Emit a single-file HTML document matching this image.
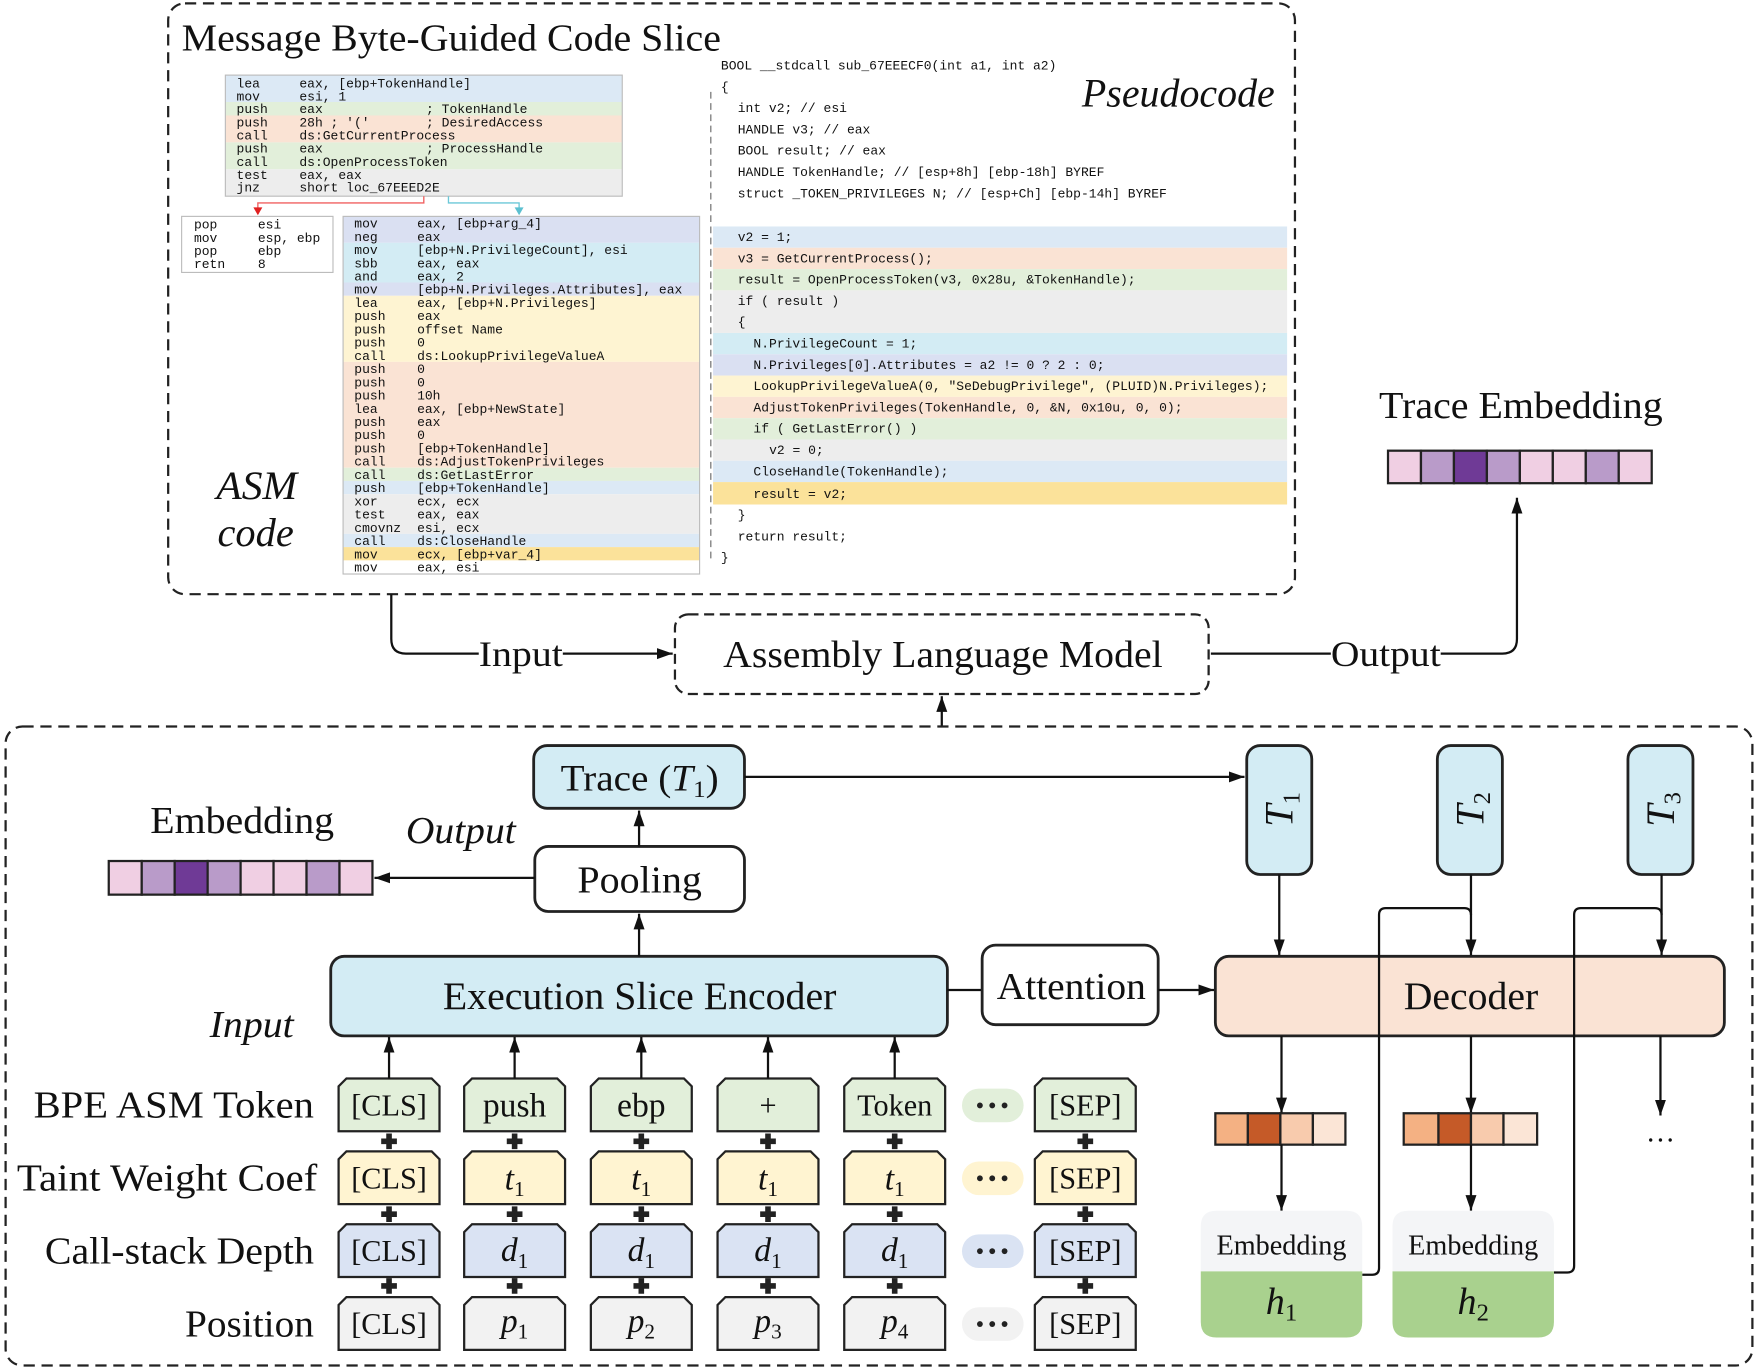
<!DOCTYPE html>
<html><head><meta charset="utf-8"><style>
html,body{margin:0;padding:0;background:#fff;width:1758px;height:1370px;overflow:hidden}
svg{display:block}
.m{font-family:"Liberation Mono",monospace;font-size:11.6px;fill:#111}
.p{font-family:"Liberation Mono",monospace;font-size:11.6px;fill:#111}
.s{font-family:"Liberation Serif",serif;fill:#111}
</style></head><body>
<svg width="1758" height="1370" viewBox="0 0 1568 1222" preserveAspectRatio="none" xmlns="http://www.w3.org/2000/svg">
<defs>
<marker id="ab" viewBox="0 0 10 10" refX="10" refY="5" markerWidth="14" markerHeight="14" markerUnits="userSpaceOnUse" orient="auto"><path d="M0,1.5 L10,5 L0,8.5 z" fill="#111"/></marker>
</defs>

<rect x="150" y="3" width="1005" height="527" rx="15" fill="none" stroke="#222" stroke-width="2" stroke-dasharray="10,6"/>
<text class="s" x="162" y="45" font-size="34" textLength="481" lengthAdjust="spacingAndGlyphs">Message Byte-Guided Code Slice</text>

<rect x="201" y="67" width="354" height="24" fill="#dce9f5"/>
<rect x="201" y="91" width="354" height="12" fill="#e2efda"/>
<rect x="201" y="103" width="354" height="24" fill="#fae3d4"/>
<rect x="201" y="127" width="354" height="24" fill="#e2efda"/>
<rect x="201" y="151" width="354" height="24" fill="#ededed"/>
<rect x="201" y="67" width="354" height="108" fill="none" stroke="#bbb" stroke-width="1"/>
<g class="m">
<text x="211" y="78">lea</text><text x="267" y="78">eax, [ebp+TokenHandle]</text>
<text x="211" y="89.5">mov</text><text x="267" y="89.5">esi, 1</text>
<text x="211" y="101">push</text><text x="267" y="101">eax</text><text x="380" y="101">; TokenHandle</text>
<text x="211" y="113">push</text><text x="267" y="113">28h ; '('</text><text x="380" y="113">; DesiredAccess</text>
<text x="211" y="124.5">call</text><text x="267" y="124.5">ds:GetCurrentProcess</text>
<text x="211" y="136">push</text><text x="267" y="136">eax</text><text x="380" y="136">; ProcessHandle</text>
<text x="211" y="148">call</text><text x="267" y="148">ds:OpenProcessToken</text>
<text x="211" y="159.5">test</text><text x="267" y="159.5">eax, eax</text>
<text x="211" y="171">jnz</text><text x="267" y="171">short loc_67EEED2E</text>
</g>
<path d="M378,175 V181 H230 V186" fill="none" stroke="#f06060" stroke-width="1.2"/>
<path d="M226,185 L234,185 L230,192 z" fill="#e02020"/>
<path d="M400,175 V181 H463 V186" fill="none" stroke="#6cc8d8" stroke-width="1.2"/>
<path d="M459,185 L467,185 L463,192 z" fill="#5cc0d0"/>

<rect x="162" y="193" width="135" height="50" fill="#fff" stroke="#bbb" stroke-width="1"/>
<g class="m">
<text x="173" y="204">pop</text><text x="230" y="204">esi</text>
<text x="173" y="216">mov</text><text x="230" y="216">esp, ebp</text>
<text x="173" y="227.5">pop</text><text x="230" y="227.5">ebp</text>
<text x="173" y="239">retn</text><text x="230" y="239">8</text>
</g>

<rect x="306" y="193" width="318" height="23.6" fill="#dae0f2"/>
<rect x="306" y="216.6" width="318" height="35.4" fill="#d3ecf4"/>
<rect x="306" y="252" width="318" height="11.8" fill="#dae0f2"/>
<rect x="306" y="263.8" width="318" height="59" fill="#fef4d2"/>
<rect x="306" y="322.8" width="318" height="94.4" fill="#fae3d4"/>
<rect x="306" y="417.2" width="318" height="11.8" fill="#e2efda"/>
<rect x="306" y="429" width="318" height="11.8" fill="#dce9f5"/>
<rect x="306" y="440.8" width="318" height="35.4" fill="#ededed"/>
<rect x="306" y="476.2" width="318" height="11.8" fill="#dce9f5"/>
<rect x="306" y="488" width="318" height="11.8" fill="#fbe29a"/>
<rect x="306" y="193" width="318" height="319" fill="none" stroke="#bbb" stroke-width="1"/>
<g class="m">
<text x="316" y="203">mov</text><text x="372" y="203">eax, [ebp+arg_4]</text>
<text x="316" y="214.8">neg</text><text x="372" y="214.8">eax</text>
<text x="316" y="226.6">mov</text><text x="372" y="226.6">[ebp+N.PrivilegeCount], esi</text>
<text x="316" y="238.4">sbb</text><text x="372" y="238.4">eax, eax</text>
<text x="316" y="250.2">and</text><text x="372" y="250.2">eax, 2</text>
<text x="316" y="262">mov</text><text x="372" y="262">[ebp+N.Privileges.Attributes], eax</text>
<text x="316" y="273.8">lea</text><text x="372" y="273.8">eax, [ebp+N.Privileges]</text>
<text x="316" y="285.6">push</text><text x="372" y="285.6">eax</text>
<text x="316" y="297.4">push</text><text x="372" y="297.4">offset Name</text>
<text x="316" y="309.2">push</text><text x="372" y="309.2">0</text>
<text x="316" y="321">call</text><text x="372" y="321">ds:LookupPrivilegeValueA</text>
<text x="316" y="332.8">push</text><text x="372" y="332.8">0</text>
<text x="316" y="344.6">push</text><text x="372" y="344.6">0</text>
<text x="316" y="356.4">push</text><text x="372" y="356.4">10h</text>
<text x="316" y="368.2">lea</text><text x="372" y="368.2">eax, [ebp+NewState]</text>
<text x="316" y="380">push</text><text x="372" y="380">eax</text>
<text x="316" y="391.8">push</text><text x="372" y="391.8">0</text>
<text x="316" y="403.6">push</text><text x="372" y="403.6">[ebp+TokenHandle]</text>
<text x="316" y="415.4">call</text><text x="372" y="415.4">ds:AdjustTokenPrivileges</text>
<text x="316" y="427.2">call</text><text x="372" y="427.2">ds:GetLastError</text>
<text x="316" y="439">push</text><text x="372" y="439">[ebp+TokenHandle]</text>
<text x="316" y="450.8">xor</text><text x="372" y="450.8">ecx, ecx</text>
<text x="316" y="462.6">test</text><text x="372" y="462.6">eax, eax</text>
<text x="316" y="474.4">cmovnz</text><text x="372" y="474.4">esi, ecx</text>
<text x="316" y="486.2">call</text><text x="372" y="486.2">ds:CloseHandle</text>
<text x="316" y="498">mov</text><text x="372" y="498">ecx, [ebp+var_4]</text>
<text x="316" y="509.8">mov</text><text x="372" y="509.8">eax, esi</text>
</g>
<text class="s" x="193" y="445" font-size="36" font-style="italic" textLength="72" lengthAdjust="spacingAndGlyphs">ASM</text>
<text class="s" x="194" y="487" font-size="36" font-style="italic" textLength="68" lengthAdjust="spacingAndGlyphs">code</text>

<line x1="634" y1="82" x2="634" y2="498" stroke="#666" stroke-width="1" stroke-dasharray="6,4"/>
<rect x="636" y="202" width="512" height="19" fill="#dce9f5"/>
<rect x="636" y="221" width="512" height="19" fill="#fae3d4"/>
<rect x="636" y="240" width="512" height="19" fill="#e2efda"/>
<rect x="636" y="259" width="512" height="38" fill="#ededed"/>
<rect x="636" y="297" width="512" height="19" fill="#d3ecf4"/>
<rect x="636" y="316" width="512" height="19" fill="#dae0f2"/>
<rect x="636" y="335" width="512" height="19" fill="#fef4d2"/>
<rect x="636" y="354" width="512" height="19" fill="#fae3d4"/>
<rect x="636" y="373" width="512" height="19" fill="#e2efda"/>
<rect x="636" y="392" width="512" height="19" fill="#ededed"/>
<rect x="636" y="411" width="512" height="19" fill="#dce9f5"/>
<rect x="636" y="430" width="512" height="20" fill="#fbe29a"/>
<g class="p">
<text x="643" y="62">BOOL __stdcall sub_67EEECF0(int a1, int a2)</text>
<text x="643" y="81">{</text>
<text x="658" y="100">int v2; // esi</text>
<text x="658" y="119">HANDLE v3; // eax</text>
<text x="658" y="138">BOOL result; // eax</text>
<text x="658" y="157">HANDLE TokenHandle; // [esp+8h] [ebp-18h] BYREF</text>
<text x="658" y="176">struct _TOKEN_PRIVILEGES N; // [esp+Ch] [ebp-14h] BYREF</text>
<text x="658" y="215">v2 = 1;</text>
<text x="658" y="234">v3 = GetCurrentProcess();</text>
<text x="658" y="253">result = OpenProcessToken(v3, 0x28u, &amp;TokenHandle);</text>
<text x="658" y="272">if ( result )</text>
<text x="658" y="291">{</text>
<text x="672" y="310">N.PrivilegeCount = 1;</text>
<text x="672" y="329">N.Privileges[0].Attributes = a2 != 0 ? 2 : 0;</text>
<text x="672" y="348">LookupPrivilegeValueA(0, "SeDebugPrivilege", (PLUID)N.Privileges);</text>
<text x="672" y="367">AdjustTokenPrivileges(TokenHandle, 0, &amp;N, 0x10u, 0, 0);</text>
<text x="672" y="386">if ( GetLastError() )</text>
<text x="686" y="405">v2 = 0;</text>
<text x="672" y="424">CloseHandle(TokenHandle);</text>
<text x="672" y="444">result = v2;</text>
<text x="658" y="463">}</text>
<text x="658" y="482">return result;</text>
<text x="643" y="501">}</text>
</g>
<text class="s" x="965" y="95" font-size="36" font-style="italic" textLength="172" lengthAdjust="spacingAndGlyphs">Pseudocode</text>

<path d="M349,530 V570 Q349,583 362,583 H427" fill="none" stroke="#111" stroke-width="2"/>
<line x1="502" y1="583" x2="600" y2="583" stroke="#111" stroke-width="2" marker-end="url(#ab)"/>
<text class="s" x="427" y="594" font-size="32" textLength="75" lengthAdjust="spacingAndGlyphs">Input</text>
<rect x="602" y="548" width="476" height="71" rx="12" fill="#fff" stroke="#222" stroke-width="2" stroke-dasharray="9,5"/>
<text class="s" x="645" y="595" font-size="34" textLength="392" lengthAdjust="spacingAndGlyphs">Assembly Language Model</text>
<line x1="1080" y1="583" x2="1187" y2="583" stroke="#111" stroke-width="2"/>
<text class="s" x="1187" y="594" font-size="32" textLength="98" lengthAdjust="spacingAndGlyphs">Output</text>
<path d="M1285,583 H1340 Q1353,583 1353,570 V444" fill="none" stroke="#111" stroke-width="2" marker-end="url(#ab)"/>
<text class="s" x="1230" y="373" font-size="34" textLength="253" lengthAdjust="spacingAndGlyphs">Trace Embedding</text>
<g stroke="#222" stroke-width="2">
<rect x="1238" y="402" width="29.4" height="29" fill="#f0cfe3"/>
<rect x="1267.4" y="402" width="29.4" height="29" fill="#b99bc9"/>
<rect x="1296.8" y="402" width="29.4" height="29" fill="#6f3a96"/>
<rect x="1326.2" y="402" width="29.4" height="29" fill="#b99bc9"/>
<rect x="1355.6" y="402" width="29.4" height="29" fill="#f0cfe3"/>
<rect x="1385" y="402" width="29.4" height="29" fill="#f0cfe3"/>
<rect x="1414.4" y="402" width="29.4" height="29" fill="#b99bc9"/>
<rect x="1443.8" y="402" width="29.4" height="29" fill="#f0cfe3"/>
</g>
<line x1="840" y1="648" x2="840" y2="621" stroke="#111" stroke-width="2" marker-end="url(#ab)"/>

<rect x="5" y="648" width="1558" height="570" rx="15" fill="none" stroke="#222" stroke-width="2" stroke-dasharray="10,6"/>

<rect x="476" y="665" width="188" height="56" rx="12" fill="#d3ecf4" stroke="#222" stroke-width="2.5"/>
<text class="s" x="500" y="705" font-size="33" textLength="141" lengthAdjust="spacingAndGlyphs">Trace (<tspan font-style="italic">T</tspan><tspan font-size="21" dy="6">1</tspan><tspan dy="-6">)</tspan></text>
<line x1="664" y1="693" x2="1110" y2="693" stroke="#111" stroke-width="2" marker-end="url(#ab)"/>
<rect x="477" y="755" width="187" height="58" rx="12" fill="#fff" stroke="#222" stroke-width="2.5"/>
<text class="s" x="515" y="796" font-size="34" textLength="111" lengthAdjust="spacingAndGlyphs">Pooling</text>
<line x1="570" y1="755" x2="570" y2="723" stroke="#111" stroke-width="2" marker-end="url(#ab)"/>
<text class="s" x="134" y="743" font-size="34" textLength="164" lengthAdjust="spacingAndGlyphs">Embedding</text>
<text class="s" x="362" y="752" font-size="34" font-style="italic" textLength="98" lengthAdjust="spacingAndGlyphs">Output</text>
<g stroke="#222" stroke-width="2">
<rect x="97" y="768" width="29.4" height="30" fill="#f0cfe3"/>
<rect x="126.4" y="768" width="29.4" height="30" fill="#b99bc9"/>
<rect x="155.8" y="768" width="29.4" height="30" fill="#6f3a96"/>
<rect x="185.2" y="768" width="29.4" height="30" fill="#b99bc9"/>
<rect x="214.6" y="768" width="29.4" height="30" fill="#f0cfe3"/>
<rect x="244" y="768" width="29.4" height="30" fill="#f0cfe3"/>
<rect x="273.4" y="768" width="29.4" height="30" fill="#b99bc9"/>
<rect x="302.8" y="768" width="29.4" height="30" fill="#f0cfe3"/>
</g>
<line x1="477" y1="783" x2="334" y2="783" stroke="#111" stroke-width="2" marker-end="url(#ab)"/>

<rect x="295" y="853" width="550" height="71" rx="12" fill="#d3ecf4" stroke="#222" stroke-width="2.5"/>
<text class="s" x="395" y="900" font-size="35" textLength="351" lengthAdjust="spacingAndGlyphs">Execution Slice Encoder</text>
<line x1="570" y1="853" x2="570" y2="815" stroke="#111" stroke-width="2" marker-end="url(#ab)"/>
<text class="s" x="187" y="925" font-size="34" font-style="italic" textLength="75" lengthAdjust="spacingAndGlyphs">Input</text>
<line x1="845" y1="883" x2="876" y2="883" stroke="#111" stroke-width="2"/>
<rect x="876" y="843" width="157" height="71" rx="12" fill="#fff" stroke="#222" stroke-width="2.5"/>
<text class="s" x="889" y="891" font-size="34" textLength="133" lengthAdjust="spacingAndGlyphs">Attention</text>
<line x1="1033" y1="883" x2="1083" y2="883" stroke="#111" stroke-width="2" marker-end="url(#ab)"/>

<rect x="1084" y="853" width="454" height="71" rx="12" fill="#fae3d4" stroke="#222" stroke-width="2.5"/>
<text class="s" x="1252" y="900" font-size="35" textLength="120" lengthAdjust="spacingAndGlyphs">Decoder</text>

<g stroke="#222" stroke-width="2.5" fill="#d3ecf4">
<rect x="1112" y="665" width="58" height="115" rx="12"/>
<rect x="1282" y="665" width="58" height="115" rx="12"/>
<rect x="1452" y="665" width="58" height="115" rx="12"/>
</g>
<text class="s" transform="translate(1153,722) rotate(-90)" font-size="36" font-style="italic" text-anchor="middle">T<tspan font-style="normal" font-size="22" dy="6">1</tspan></text>
<text class="s" transform="translate(1323,722) rotate(-90)" font-size="36" font-style="italic" text-anchor="middle">T<tspan font-style="normal" font-size="22" dy="6">2</tspan></text>
<text class="s" transform="translate(1493,722) rotate(-90)" font-size="36" font-style="italic" text-anchor="middle">T<tspan font-style="normal" font-size="22" dy="6">3</tspan></text>
<g stroke="#111" stroke-width="2" fill="none">
<line x1="1141" y1="780" x2="1141" y2="852" marker-end="url(#ab)"/>
<line x1="1312" y1="780" x2="1312" y2="852" marker-end="url(#ab)"/>
<line x1="1482" y1="780" x2="1482" y2="852" marker-end="url(#ab)"/>
<path d="M1215,1137 H1224 Q1230,1137 1230,1131 V816 Q1230,810 1236,810 H1306 Q1312,810 1312,816"/>
<path d="M1386,1135 H1398 Q1404,1135 1404,1129 V816 Q1404,810 1410,810 H1476 Q1482,810 1482,816"/>
<line x1="1143" y1="924" x2="1143" y2="993" marker-end="url(#ab)"/>
<line x1="1312" y1="924" x2="1312" y2="993" marker-end="url(#ab)"/>
<line x1="1481" y1="924" x2="1481" y2="995" marker-end="url(#ab)"/>
</g>
<g stroke="#222" stroke-width="2">
<rect x="1084" y="993" width="29" height="28" fill="#f4b183"/>
<rect x="1113" y="993" width="29" height="28" fill="#c55a28"/>
<rect x="1142" y="993" width="29" height="28" fill="#f8cbad"/>
<rect x="1171" y="993" width="29" height="28" fill="#fbe5d6"/>
<rect x="1252" y="993" width="31" height="28" fill="#f4b183"/>
<rect x="1283" y="993" width="29" height="28" fill="#c55a28"/>
<rect x="1312" y="993" width="29" height="28" fill="#f8cbad"/>
<rect x="1341" y="993" width="30" height="28" fill="#fbe5d6"/>
</g>
<g stroke="#111" stroke-width="2">
<line x1="1143" y1="1021" x2="1143" y2="1080" marker-end="url(#ab)"/>
<line x1="1312" y1="1021" x2="1312" y2="1080" marker-end="url(#ab)"/>
</g>
<text class="s" x="1481" y="1018" font-size="26" text-anchor="middle">…</text>

<path d="M1071,1134 V1094 Q1071,1080 1085,1080 H1201 Q1215,1080 1215,1094 V1134 z" fill="#f4f5f7"/>
<path d="M1071,1134 H1215 V1179 Q1215,1193 1201,1193 H1085 Q1071,1193 1071,1179 z" fill="#a9d18e"/>
<path d="M1242,1134 V1094 Q1242,1080 1256,1080 H1372 Q1386,1080 1386,1094 V1134 z" fill="#f4f5f7"/>
<path d="M1242,1134 H1386 V1179 Q1386,1193 1372,1193 H1256 Q1242,1193 1242,1179 z" fill="#a9d18e"/>
<text class="s" x="1085" y="1119" font-size="25" textLength="116" lengthAdjust="spacingAndGlyphs">Embedding</text>
<text class="s" x="1256" y="1119" font-size="25" textLength="116" lengthAdjust="spacingAndGlyphs">Embedding</text>
<text class="s" x="1143" y="1172" font-size="34" text-anchor="middle" font-style="italic">h<tspan font-style="normal" font-size="22" dy="6">1</tspan></text>
<text class="s" x="1314" y="1172" font-size="34" text-anchor="middle" font-style="italic">h<tspan font-style="normal" font-size="22" dy="6">2</tspan></text>

<g class="s" font-size="34">
<text x="30" y="997" textLength="250" lengthAdjust="spacingAndGlyphs">BPE ASM Token</text>
<text x="15" y="1062" textLength="268" lengthAdjust="spacingAndGlyphs">Taint Weight Coef</text>
<text x="40" y="1127" textLength="240" lengthAdjust="spacingAndGlyphs">Call-stack Depth</text>
<text x="165" y="1192" textLength="115" lengthAdjust="spacingAndGlyphs">Position</text>
</g>

<g stroke="#222" stroke-width="2">
<g fill="#e2efda">
<path d="M302,1009 V969 L309,962 H385 L392,969 V1009 z"/>
<path d="M414,1009 V969 L421,962 H497 L504,969 V1009 z"/>
<path d="M527,1009 V969 L534,962 H610 L617,969 V1009 z"/>
<path d="M640,1009 V969 L647,962 H723 L730,969 V1009 z"/>
<path d="M753,1009 V969 L760,962 H836 L843,969 V1009 z"/>
<path d="M923,1009 V969 L930,962 H1006 L1013,969 V1009 z"/>
</g>
<g fill="#fff4d1">
<path d="M302,1074 V1034 L309,1027 H385 L392,1034 V1074 z"/>
<path d="M414,1074 V1034 L421,1027 H497 L504,1034 V1074 z"/>
<path d="M527,1074 V1034 L534,1027 H610 L617,1034 V1074 z"/>
<path d="M640,1074 V1034 L647,1027 H723 L730,1034 V1074 z"/>
<path d="M753,1074 V1034 L760,1027 H836 L843,1034 V1074 z"/>
<path d="M923,1074 V1034 L930,1027 H1006 L1013,1034 V1074 z"/>
</g>
<g fill="#dae3f3">
<path d="M302,1139 V1099 L309,1092 H385 L392,1099 V1139 z"/>
<path d="M414,1139 V1099 L421,1092 H497 L504,1099 V1139 z"/>
<path d="M527,1139 V1099 L534,1092 H610 L617,1099 V1139 z"/>
<path d="M640,1139 V1099 L647,1092 H723 L730,1099 V1139 z"/>
<path d="M753,1139 V1099 L760,1092 H836 L843,1099 V1139 z"/>
<path d="M923,1139 V1099 L930,1092 H1006 L1013,1099 V1139 z"/>
</g>
<g fill="#f2f2f2">
<path d="M302,1204 V1164 L309,1157 H385 L392,1164 V1204 z"/>
<path d="M414,1204 V1164 L421,1157 H497 L504,1164 V1204 z"/>
<path d="M527,1204 V1164 L534,1157 H610 L617,1164 V1204 z"/>
<path d="M640,1204 V1164 L647,1157 H723 L730,1164 V1204 z"/>
<path d="M753,1204 V1164 L760,1157 H836 L843,1164 V1204 z"/>
<path d="M923,1204 V1164 L930,1157 H1006 L1013,1164 V1204 z"/>
</g>
</g>
<rect x="858" y="971" width="55" height="30" rx="15" fill="#e2efda"/>
<rect x="858" y="1036" width="55" height="30" rx="15" fill="#fff4d1"/>
<rect x="858" y="1101" width="55" height="30" rx="15" fill="#dae3f3"/>
<rect x="858" y="1166" width="55" height="30" rx="15" fill="#f2f2f2"/>
<g fill="#222">
<circle cx="874" cy="986" r="2.6"/><circle cx="885" cy="986" r="2.6"/><circle cx="896" cy="986" r="2.6"/>
<circle cx="874" cy="1051" r="2.6"/><circle cx="885" cy="1051" r="2.6"/><circle cx="896" cy="1051" r="2.6"/>
<circle cx="874" cy="1116" r="2.6"/><circle cx="885" cy="1116" r="2.6"/><circle cx="896" cy="1116" r="2.6"/>
<circle cx="874" cy="1181" r="2.6"/><circle cx="885" cy="1181" r="2.6"/><circle cx="896" cy="1181" r="2.6"/>
</g>
<g stroke="#111" stroke-width="2">
<line x1="347" y1="962" x2="347" y2="925" marker-end="url(#ab)"/>
<line x1="459" y1="962" x2="459" y2="925" marker-end="url(#ab)"/>
<line x1="572" y1="962" x2="572" y2="925" marker-end="url(#ab)"/>
<line x1="685" y1="962" x2="685" y2="925" marker-end="url(#ab)"/>
<line x1="798" y1="962" x2="798" y2="925" marker-end="url(#ab)"/>
</g>
<g fill="#222">
<path id="pl" d="M-2.5,-7 H2.5 V-2.5 H7 V2.5 H2.5 V7 H-2.5 V2.5 H-7 V-2.5 H-2.5 z" transform="translate(347,1018)"/>
<use href="#pl" x="112" y="0"/><use href="#pl" x="225" y="0"/><use href="#pl" x="338" y="0"/><use href="#pl" x="451" y="0"/><use href="#pl" x="621" y="0"/>
<use href="#pl" x="0" y="65"/><use href="#pl" x="112" y="65"/><use href="#pl" x="225" y="65"/><use href="#pl" x="338" y="65"/><use href="#pl" x="451" y="65"/><use href="#pl" x="621" y="65"/>
<use href="#pl" x="0" y="129"/><use href="#pl" x="112" y="129"/><use href="#pl" x="225" y="129"/><use href="#pl" x="338" y="129"/><use href="#pl" x="451" y="129"/><use href="#pl" x="621" y="129"/>
</g>
<g class="s" font-size="27" text-anchor="middle">
<text x="347" y="995">[CLS]</text><text x="459" y="996" font-size="30">push</text><text x="572" y="996" font-size="30">ebp</text><text x="685" y="995">+</text><text x="798" y="995">Token</text><text x="968" y="995">[SEP]</text>
<text x="347" y="1060">[CLS]</text><text x="968" y="1060">[SEP]</text>
<text x="347" y="1125">[CLS]</text><text x="968" y="1125">[SEP]</text>
<text x="347" y="1190">[CLS]</text><text x="968" y="1190">[SEP]</text>
</g>
<g class="s" font-size="30" font-style="italic" text-anchor="middle">
<text x="459" y="1061">t<tspan font-style="normal" font-size="19" dy="6">1</tspan></text>
<text x="572" y="1061">t<tspan font-style="normal" font-size="19" dy="6">1</tspan></text>
<text x="685" y="1061">t<tspan font-style="normal" font-size="19" dy="6">1</tspan></text>
<text x="798" y="1061">t<tspan font-style="normal" font-size="19" dy="6">1</tspan></text>
<text x="459" y="1125">d<tspan font-style="normal" font-size="19" dy="6">1</tspan></text>
<text x="572" y="1125">d<tspan font-style="normal" font-size="19" dy="6">1</tspan></text>
<text x="685" y="1125">d<tspan font-style="normal" font-size="19" dy="6">1</tspan></text>
<text x="798" y="1125">d<tspan font-style="normal" font-size="19" dy="6">1</tspan></text>
<text x="459" y="1188">p<tspan font-style="normal" font-size="19" dy="6">1</tspan></text>
<text x="572" y="1188">p<tspan font-style="normal" font-size="19" dy="6">2</tspan></text>
<text x="685" y="1188">p<tspan font-style="normal" font-size="19" dy="6">3</tspan></text>
<text x="798" y="1188">p<tspan font-style="normal" font-size="19" dy="6">4</tspan></text>
</g>
</svg>
</body></html>
